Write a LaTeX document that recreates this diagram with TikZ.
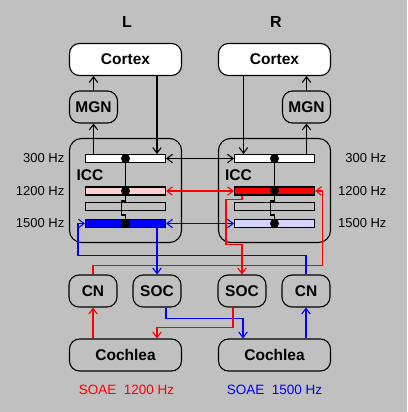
\documentclass[tikz,border=0pt]{standalone}
\usepackage{fontspec}
\setmainfont{Liberation Sans}
\usetikzlibrary{arrows.meta,positioning}

\definecolor{bggray}{HTML}{C0C0C0}
\definecolor{lowpink}{HTML}{FFD0D0}
\definecolor{lowblue}{HTML}{D4D4FF}

\tikzset{
	box/.style={
		rectangle, rounded corners=10pt,
		draw=black, line width=1.1pt,
		minimum width=112pt, minimum height=32pt,
		inner sep=0pt,
		font=\fontsize{15.5}{18}\selectfont\bfseries,
	},
	cortex/.style={box, fill=white},
	small/.style={box, minimum width=48pt, minimum height=32pt},
	icc/.style={box, rounded corners=12pt, minimum height=104pt},
	bar/.style={
		rectangle,
		draw=black, line width=1.1pt,
		minimum width=80pt, minimum height=8pt,
		inner sep=0pt,
	},
	hz/.style={font=\fontsize{13}{15}\selectfont, inner sep=0pt},
}

\begin{document}
\begin{tikzpicture}[x=1pt, y=1pt, line width=1.1pt, >={Straight Barb[angle=75:7pt]}]
	\fill[bggray] (0,0) rectangle (407,-412);
	\useasboundingbox (0,0) rectangle (407,-412);
	
	\node[cortex](CtxL) at (125.5,-59.5){Cortex};
	\node[cortex, right of=CtxL, node distance=149pt](CtxR){Cortex};
	\node[above of=CtxL, node distance=37.5pt, xshift=1.5pt, font=\fontsize{16}{18}\selectfont\bfseries](SideL){L};
	\node[above of=CtxR, node distance=37.5pt, xshift=1.5pt, font=\fontsize{16}{18}\selectfont\bfseries](SideR){R};
	
	\node[small, below of=CtxL, node distance=47.5pt, xshift=-32pt](MGNL){MGN};
	\node[small, below of=CtxR, node distance=47.5pt, xshift=32pt](MGNR){MGN};
	
	\node[icc, below of=CtxL, node distance=131pt](ICCL){};
	\node[icc, below of=CtxR, node distance=131pt](ICCR){};
	\node[box, draw=none, at={([xshift=-35.5pt, yshift=15.5pt]ICCL.center)}](ICCLtxt){ICC};
	\node[box, draw=none, at={([xshift=-36pt, yshift=15.5pt]ICCR.center)}](ICCRtxt){ICC};
	
	% frequency bars, left side
	\node[bar, fill=white, below of=CtxL, node distance=99pt](L300){};
	\node[bar, fill=lowpink, below of=L300, node distance=32.5pt](L1200){};
	\node[bar, below of=L1200, node distance=15.5pt](L0){};
	\node[bar, fill=blue, below of=L0, node distance=17pt](L1500){};
	
	% frequency bars, right side
	\node[bar, fill=white, below of=CtxR, node distance=99pt](R300){};
	\node[bar, fill=red, below of=R300, node distance=32.5pt](R1200){};
	\node[bar, below of=R1200, node distance=15.5pt](R0){};
	\node[bar, fill=lowblue, below of=R0, node distance=17pt](R1500){};
	
	\node[hz, left=20pt of L300](HzL1){300 Hz};
	\node[hz, left=20pt of L1200](HzL2){1200 Hz};
	\node[hz, left=20pt of L1500](HzL3){1500 Hz};
	\node[hz, anchor=east] at ([xshift=72pt]R300.east) (HzR1){300 Hz};
	\node[hz, anchor=east] at ([xshift=72pt]R1200.east) (HzR2){1200 Hz};
	\node[hz, anchor=east] at ([xshift=72pt]R1500.east) (HzR3){1500 Hz};
	
	\node[small, below of=ICCL, node distance=100.5pt, xshift=-32.5pt](CNL){CN};
	\node[small, below of=ICCL, node distance=100.5pt, xshift=31.5pt](SOCL){SOC};
	\node[small, below of=ICCR, node distance=100.5pt, xshift=-32.5pt](SOCR){SOC};
	\node[small, below of=ICCR, node distance=100.5pt, xshift=31.5pt](CNR){CN};
	
	\node[box, below of=ICCL, node distance=164.5pt](CochL){Cochlea};
	\node[box, below of=ICCR, node distance=164.5pt](CochR){Cochlea};
	
	\node[hz, below of=CochL, node distance=35pt, xshift=1pt, text=red, font=\fontsize{13.5}{15}\selectfont](SoaeL){SOAE\ \ 1200 Hz};
	\node[hz, below of=CochR, node distance=35pt, text=blue, font=\fontsize{13.5}{15}\selectfont](SoaeR){SOAE\ \ 1500 Hz};
	
	% ascending and descending black paths
	\draw[->] (MGNL.north) -- (MGNL.north |- CtxL.south);
	\draw[->] (MGNR.north) -- (MGNR.north |- CtxR.south);
	\draw[->] (MGNL.south |- L300.north) -- (MGNL.south);
	\draw[->] (MGNR.south |- R300.north) -- (MGNR.south);
	\draw[->] ([xshift=31.5pt]CtxL.south) -- ([xshift=31.5pt]L300.north);
	\draw[->] ([xshift=-31pt]CtxR.south) -- ([xshift=-31pt]R300.north);
	
	\draw (L300.center) -- (L1200.center) -- ++(0,-10) -- ++(-4,0) -- ++(0,-14) -- ++(4,0) -- (L1500.center);
	\draw (R300.center) -- (R1200.center) -- ++(0,-10) -- ++(-4,0) -- ++(0,-14) -- ++(4,0) -- (R1500.center);
	\fill (L300) circle (4.5pt);
	\fill (L1200) circle (4.5pt);
	\fill (L1500) circle (4.5pt);
	\fill (R300) circle (4.5pt);
	\fill (R1200) circle (4.5pt);
	\fill (R1500) circle (4.5pt);
	
	% crossing between the two sides
	\draw[<->] (L300.east) -- (R300.west);
	\draw[<->, red] (L1200.east) -- (R1200.west);
	\draw[<->, blue] (L1500.east) -- (R1500.west);
	
	\draw[->, red] (CNL.north) -- ++(0,9) -| ([xshift=7pt]R1200.east) -- (R1200.east);
	\draw[->, blue] (CNR.north) -- ++(0,19) -| ([xshift=-7pt]L1500.west) -- (L1500.west);
	\draw[->, blue] (SOCL.north |- L1500.south) -- (SOCL.north);
	\draw[->, red] (SOCR.north |- R1200.south) -- ++(0,-4) -| ++(-16,-45) -| (SOCR.north);
	
	% cochlea loops
	\draw[->, red] (CNL.south |- CochL.north) -- (CNL.south);
	\draw[->, blue] (CNR.south |- CochR.north) -- (CNR.south);
	\draw[->, blue] ([xshift=9pt]SOCL.south) -- ++(0,-11) -| ([xshift=-31.5pt]CochR.north);
	\draw[->, red] ([xshift=-9pt]SOCR.south) -- ++(0,-20) -| ([xshift=31.5pt]CochL.north);
\end{tikzpicture}
\end{document}
